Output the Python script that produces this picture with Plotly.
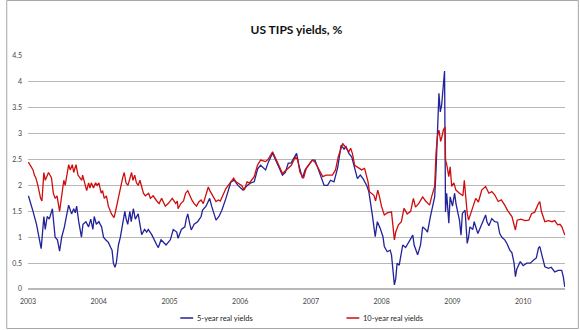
import plotly.graph_objects as go

title_text = "US TIPS yields, %"
series_names = ["5-year real yields", "10-year real yields"]

x_tick_vals = ["2003-01-01", "2004-01-01", "2005-01-01", "2006-01-01",
               "2007-01-01", "2008-01-01", "2009-01-01", "2010-01-01"]
x_tick_text = ["2003", "2004", "2005", "2006", "2007", "2008", "2009", "2010"]
y_tick_vals = [0, 0.5, 1, 1.5, 2, 2.5, 3, 3.5, 4, 4.5]
y_tick_text = ["0", "0.5", "1", "1.5", "2", "2.5", "3", "3.5", "4", "4.5"]

five_dates = [
    "2003-01-03", "2003-01-17", "2003-01-27", "2003-02-14", "2003-02-24", "2003-03-10",
    "2003-03-24", "2003-03-31", "2003-04-10", "2003-04-21", "2003-05-07", "2003-05-21",
    "2003-06-02", "2003-06-13", "2003-06-24", "2003-07-08", "2003-07-18", "2003-07-30",
    "2003-08-14", "2003-08-25", "2003-09-02", "2003-09-09", "2003-09-20", "2003-10-04",
    "2003-10-12", "2003-10-27", "2003-11-10", "2003-11-21", "2003-12-02", "2003-12-09",
    "2003-12-20", "2004-01-02", "2004-01-16", "2004-01-26", "2004-02-06", "2004-02-20",
    "2004-03-03", "2004-03-10", "2004-03-17", "2004-03-25", "2004-04-01", "2004-04-12",
    "2004-04-22", "2004-05-04", "2004-05-15", "2004-05-22", "2004-05-30", "2004-06-10",
    "2004-06-17", "2004-06-28", "2004-07-08", "2004-07-23", "2004-07-30", "2004-08-10",
    "2004-08-25", "2004-09-05", "2004-09-13", "2004-10-01", "2004-10-27", "2004-11-04",
    "2004-11-18", "2004-12-03", "2004-12-14", "2005-01-05", "2005-01-20", "2005-02-07",
    "2005-02-14", "2005-03-03", "2005-03-21", "2005-03-28", "2005-04-05", "2005-04-16",
    "2005-04-23", "2005-05-08", "2005-05-26", "2005-06-13", "2005-06-20", "2005-07-08",
    "2005-07-27", "2005-08-07", "2005-08-29", "2005-09-13", "2005-09-28", "2005-10-19",
    "2005-10-30", "2005-11-14", "2005-12-02", "2005-12-20", "2006-01-15", "2006-02-06",
    "2006-02-24", "2006-03-14", "2006-04-01", "2006-04-16", "2006-05-12", "2006-05-26",
    "2006-06-17", "2006-07-01", "2006-07-19", "2006-08-07", "2006-08-22", "2006-09-06",
    "2006-09-20", "2006-10-19", "2006-10-30", "2006-11-18", "2006-12-02", "2007-01-08",
    "2007-01-22", "2007-02-21", "2007-03-10", "2007-03-28", "2007-04-12", "2007-04-30",
    "2007-05-19", "2007-06-06", "2007-06-21", "2007-07-01", "2007-07-16", "2007-07-31",
    "2007-08-15", "2007-08-29", "2007-09-13", "2007-09-27", "2007-10-16", "2007-10-27",
    "2007-11-14", "2007-11-22", "2007-11-29", "2007-12-10", "2007-12-25", "2008-01-08",
    "2008-01-15", "2008-01-30", "2008-02-14", "2008-02-21", "2008-02-28", "2008-03-07",
    "2008-03-14", "2008-03-21", "2008-04-01", "2008-04-19", "2008-05-04", "2008-05-22",
    "2008-06-10", "2008-06-17", "2008-07-05", "2008-07-20", "2008-07-31", "2008-08-15",
    "2008-08-25", "2008-09-09", "2008-10-01", "2008-10-08", "2008-10-19", "2008-10-23",
    "2008-10-30", "2008-11-06", "2008-11-21", "2008-11-26", "2008-12-02", "2008-12-13",
    "2008-12-20", "2009-01-01", "2009-01-12", "2009-01-19", "2009-01-30", "2009-02-06",
    "2009-02-14", "2009-02-21", "2009-03-07", "2009-03-18", "2009-03-25", "2009-04-01",
    "2009-04-16", "2009-04-23", "2009-05-12", "2009-05-26", "2009-06-21", "2009-06-28",
    "2009-07-08", "2009-07-23", "2009-08-07", "2009-08-22", "2009-09-02", "2009-09-13",
    "2009-09-28", "2009-10-09", "2009-10-24", "2009-11-04", "2009-11-15", "2009-11-22",
    "2009-11-29", "2009-12-17", "2010-01-01", "2010-01-19", "2010-02-07", "2010-02-24",
    "2010-03-10", "2010-03-21", "2010-03-28", "2010-04-08", "2010-04-23", "2010-05-12",
    "2010-05-26", "2010-06-13", "2010-07-01", "2010-07-19", "2010-07-27", "2010-08-04",
]
five_yields = [
    1.80, 1.65, 1.50, 1.25, 1.05, 0.78,
    1.40, 1.15, 1.40, 1.35, 1.55, 1.00,
    0.95, 0.73, 1.00, 1.20, 1.40, 1.62,
    1.45, 1.55, 1.47, 1.60, 1.30, 1.00,
    1.25, 1.30, 1.20, 1.35, 1.15, 1.40,
    1.25, 1.30, 1.20, 1.00, 0.95, 0.90,
    0.80, 0.75, 0.50, 0.42, 0.50, 0.85,
    1.00, 1.30, 1.50, 1.35, 1.25, 1.50,
    1.30, 1.55, 1.35, 1.45, 1.30, 1.05,
    1.15, 1.10, 1.15, 1.05, 0.85, 0.80,
    0.95, 0.88, 0.85, 0.95, 1.15, 1.10,
    0.98, 1.15, 1.20, 1.35, 1.45, 1.25,
    1.14, 1.25, 1.30, 1.40, 1.52, 1.60,
    1.75, 1.59, 1.33, 1.40, 1.52, 1.75,
    1.88, 2.07, 2.10, 2.00, 1.91, 2.00,
    2.05, 2.07, 2.32, 2.39, 2.30, 2.45,
    2.62, 2.50, 2.35, 2.20, 2.25, 2.43,
    2.43, 2.62, 2.40, 2.14, 2.30, 2.49,
    2.49, 2.17, 2.00, 2.00, 2.10, 2.07,
    2.34, 2.78, 2.70, 2.75, 2.62, 2.55,
    2.30, 2.13, 2.20, 2.13, 2.00, 1.88,
    1.43, 1.24, 1.01, 1.30, 1.17, 1.01,
    0.82, 0.72, 0.75, 0.66, 0.40, 0.08,
    0.20, 0.50, 0.46, 0.85, 0.80, 0.91,
    1.04, 0.85, 0.66, 0.85, 1.20, 1.15,
    1.10, 1.40, 1.78, 2.29, 3.30, 3.78,
    3.42, 3.55, 4.21, 1.49, 1.85, 1.27,
    1.78, 1.60, 1.85, 1.65, 1.45, 1.33,
    1.04, 1.46, 1.52, 0.88, 1.00, 1.20,
    1.15, 1.30, 1.07, 1.20, 1.43, 1.30,
    1.22, 1.36, 1.30, 1.29, 1.07, 1.00,
    0.95, 0.88, 0.75, 0.70, 0.50, 0.24,
    0.38, 0.53, 0.45, 0.50, 0.50, 0.56,
    0.60, 0.79, 0.82, 0.65, 0.43, 0.40,
    0.42, 0.33, 0.36, 0.36, 0.24, 0.04,
]

ten_dates = [
    "2003-01-03", "2003-01-27", "2003-02-03", "2003-02-10", "2003-02-21", "2003-03-07",
    "2003-03-14", "2003-03-24", "2003-03-31", "2003-04-10", "2003-04-17", "2003-05-02",
    "2003-05-12", "2003-05-21", "2003-05-31", "2003-06-13", "2003-06-24", "2003-07-05",
    "2003-07-12", "2003-07-20", "2003-07-30", "2003-08-07", "2003-08-18", "2003-08-25",
    "2003-09-06", "2003-09-16", "2003-09-27", "2003-10-06", "2003-10-10", "2003-10-24",
    "2003-10-31", "2003-11-10", "2003-11-17", "2003-11-24", "2003-12-05", "2003-12-16",
    "2003-12-24", "2004-01-02", "2004-01-14", "2004-01-21", "2004-01-30", "2004-02-10",
    "2004-02-20", "2004-03-07", "2004-03-20", "2004-03-28", "2004-04-10", "2004-04-19",
    "2004-04-25", "2004-05-04", "2004-05-12", "2004-05-21", "2004-05-31", "2004-06-10",
    "2004-06-19", "2004-06-26", "2004-07-05", "2004-07-14", "2004-07-23", "2004-08-01",
    "2004-08-12", "2004-08-19", "2004-08-29", "2004-09-15", "2004-09-24", "2004-10-08",
    "2004-10-27", "2004-11-08", "2004-11-21", "2004-12-10", "2004-12-25", "2005-01-15",
    "2005-02-02", "2005-02-10", "2005-02-14", "2005-02-28", "2005-03-14", "2005-03-25",
    "2005-04-05", "2005-04-16", "2005-04-26", "2005-05-08", "2005-05-20", "2005-06-01",
    "2005-06-13", "2005-06-24", "2005-07-08", "2005-07-20", "2005-07-28", "2005-08-29",
    "2005-09-10", "2005-09-20", "2005-10-19", "2005-11-01", "2005-11-28", "2005-12-10",
    "2006-01-08", "2006-01-22", "2006-02-05", "2006-02-18", "2006-03-14", "2006-03-31",
    "2006-04-16", "2006-05-12", "2006-05-24", "2006-06-17", "2006-07-01", "2006-07-19",
    "2006-08-07", "2006-08-20", "2006-09-06", "2006-09-22", "2006-10-12", "2006-10-25",
    "2006-11-05", "2006-11-24", "2006-12-08", "2007-01-08", "2007-01-22", "2007-02-10",
    "2007-03-03", "2007-03-20", "2007-04-06", "2007-04-22", "2007-05-08", "2007-05-22",
    "2007-06-14", "2007-06-28", "2007-07-16", "2007-07-25", "2007-08-03", "2007-08-15",
    "2007-08-30", "2007-09-20", "2007-10-05", "2007-10-23", "2007-10-30", "2007-11-22",
    "2007-12-01", "2007-12-12", "2007-12-20", "2008-01-01", "2008-01-15", "2008-01-30",
    "2008-02-21", "2008-03-07", "2008-03-14", "2008-03-28", "2008-04-12", "2008-04-26",
    "2008-05-12", "2008-05-30", "2008-06-13", "2008-06-24", "2008-07-12", "2008-07-31",
    "2008-08-15", "2008-09-05", "2008-09-15", "2008-10-01", "2008-10-08", "2008-10-15",
    "2008-10-23", "2008-11-01", "2008-11-08", "2008-11-15", "2008-11-24", "2008-11-26",
    "2008-12-01", "2008-12-13", "2008-12-20", "2008-12-28", "2009-01-08", "2009-01-19",
    "2009-02-06", "2009-02-24", "2009-03-03", "2009-03-10", "2009-03-18", "2009-03-25",
    "2009-04-08", "2009-05-01", "2009-05-15", "2009-06-01", "2009-06-21", "2009-07-08",
    "2009-07-23", "2009-08-07", "2009-08-25", "2009-09-10", "2009-09-28", "2009-10-12",
    "2009-11-04", "2009-11-22", "2009-12-01", "2009-12-20", "2010-01-10", "2010-01-30",
    "2010-02-14", "2010-03-01", "2010-03-21", "2010-03-28", "2010-04-05", "2010-04-23",
    "2010-05-12", "2010-05-30", "2010-06-13", "2010-06-28", "2010-07-10", "2010-07-20",
    "2010-08-04",
]
ten_yields = [
    2.45, 2.30, 2.20, 2.15, 2.00, 1.75,
    1.70, 2.25, 2.10, 2.20, 2.25, 2.15,
    1.85, 1.75, 1.80, 1.50, 1.80, 2.10,
    2.00, 2.20, 2.40, 2.30, 2.40, 2.25,
    2.40, 2.20, 2.15, 2.10, 2.20, 2.00,
    1.90, 2.05, 1.95, 2.05, 1.95, 2.05,
    2.00, 2.05, 1.85, 1.90, 1.75, 1.80,
    1.60, 1.45, 1.38, 1.50, 1.75, 1.85,
    2.00, 2.15, 2.25, 2.05, 2.00, 2.15,
    2.25, 2.10, 2.20, 2.05, 2.00, 2.10,
    1.95, 1.85, 1.80, 1.85, 1.75, 1.80,
    1.70, 1.65, 1.75, 1.60, 1.65, 1.75,
    1.65, 1.70, 1.55, 1.65, 1.70, 1.85,
    1.90, 1.80, 1.72, 1.65, 1.60, 1.68,
    1.72, 1.65, 1.85, 1.97, 1.90, 1.69,
    1.72, 1.70, 1.94, 2.00, 2.14, 2.07,
    2.00, 1.91, 2.07, 2.05, 2.17, 2.39,
    2.49, 2.46, 2.50, 2.65, 2.55, 2.39,
    2.23, 2.28, 2.33, 2.39, 2.55, 2.50,
    2.26, 2.14, 2.33, 2.49, 2.45, 2.33,
    2.17, 2.20, 2.20, 2.20, 2.30, 2.55,
    2.81, 2.74, 2.65, 2.72, 2.62, 2.39,
    2.35, 2.30, 2.33, 2.07, 1.88, 1.81,
    1.70, 1.91, 1.80, 1.59, 1.43, 1.47,
    1.49, 0.95, 1.10, 1.24, 1.30, 1.56,
    1.45, 1.50, 1.75, 1.58, 1.66, 1.78,
    1.70, 1.62, 1.78, 1.98, 2.62, 2.94,
    3.07, 2.85, 2.95, 3.07, 3.13, 2.49,
    2.43, 2.17, 2.36, 1.98, 2.05, 1.91,
    1.85, 1.80, 2.10, 1.75, 1.46, 1.33,
    1.49, 1.75, 1.68, 1.91, 1.98, 1.85,
    1.88, 1.82, 1.69, 1.72, 1.62, 1.52,
    1.40, 1.14, 1.33, 1.35, 1.32, 1.33,
    1.46, 1.48, 1.65, 1.69, 1.50, 1.30,
    1.32, 1.30, 1.32, 1.24, 1.25, 1.20,
    1.04,
]

# ---- layout geometry (pixels) ----
W, H = 580, 330
ML, MR, MT, MB = 22, 15, 56, 41
PW, PH = W - ML - MR, H - MT - MB

def px_x(px):
    return (px - ML) / PW

def px_y(py):
    return (H - MB - py) / PH

BLUE = "#22229a"
RED = "#d00d0d"
FONT = "Lato, 'Open Sans', sans-serif"

fig = go.Figure()
fig.add_trace(go.Scatter(x=five_dates, y=five_yields, mode="lines", name=series_names[0],
                         line=dict(color=BLUE, width=1.3), showlegend=False))
fig.add_trace(go.Scatter(x=ten_dates, y=ten_yields, mode="lines", name=series_names[1],
                         line=dict(color=RED, width=1.3), showlegend=False))

shapes = [
    dict(type="rect", xref="paper", yref="paper",
         x0=px_x(0.5), x1=px_x(578.5), y0=px_y(328.5), y1=px_y(0.5),
         line=dict(color="#a6a6a6", width=1), fillcolor="rgba(0,0,0,0)", layer="below"),
    dict(type="line", xref="paper", yref="paper",
         x0=px_x(176), x1=px_x(189), y0=px_y(318), y1=px_y(318),
         line=dict(color=BLUE, width=1.5)),
    dict(type="line", xref="paper", yref="paper",
         x0=px_x(344), x1=px_x(357), y0=px_y(318), y1=px_y(318),
         line=dict(color=RED, width=1.5)),
]
annotations = [
    dict(text=series_names[0], xref="paper", yref="paper", x=px_x(191), y=px_y(318),
         xanchor="left", yanchor="middle", showarrow=False,
         font=dict(family=FONT, size=7.5, color="#222222")),
    dict(text=series_names[1], xref="paper", yref="paper", x=px_x(359), y=px_y(318),
         xanchor="left", yanchor="middle", showarrow=False,
         font=dict(family=FONT, size=7.5, color="#222222")),
]

fig.update_layout(
    width=W, height=H,
    margin=dict(l=ML, r=MR, t=MT, b=MB, pad=0),
    paper_bgcolor="white", plot_bgcolor="white",
    title=dict(text="<b>" + title_text + "</b>", x=0.5, xref="paper", xanchor="center",
               y=1 - 30 / H, yref="container", yanchor="middle",
               font=dict(family=FONT, size=12, color="#111111")),
    shapes=shapes, annotations=annotations,
    showlegend=False,
    xaxis=dict(type="date", range=["2003-01-01", "2010-08-05"],
               tickvals=x_tick_vals, ticktext=x_tick_text,
               showgrid=False, zeroline=False, showline=False, ticks="",
               ticklabelstandoff=7,
               tickfont=dict(family=FONT, size=7, color="#444444")),
    yaxis=dict(range=[0, 4.5], tickvals=y_tick_vals, ticktext=y_tick_text,
               showgrid=True, gridcolor="#b8b8b8", gridwidth=1,
               zeroline=True, zerolinecolor="#b8b8b8", zerolinewidth=1.5,
               showline=False, ticks="", ticklabelstandoff=5,
               tickfont=dict(family=FONT, size=7, color="#444444")),
)

fig.write_html("out.html")
